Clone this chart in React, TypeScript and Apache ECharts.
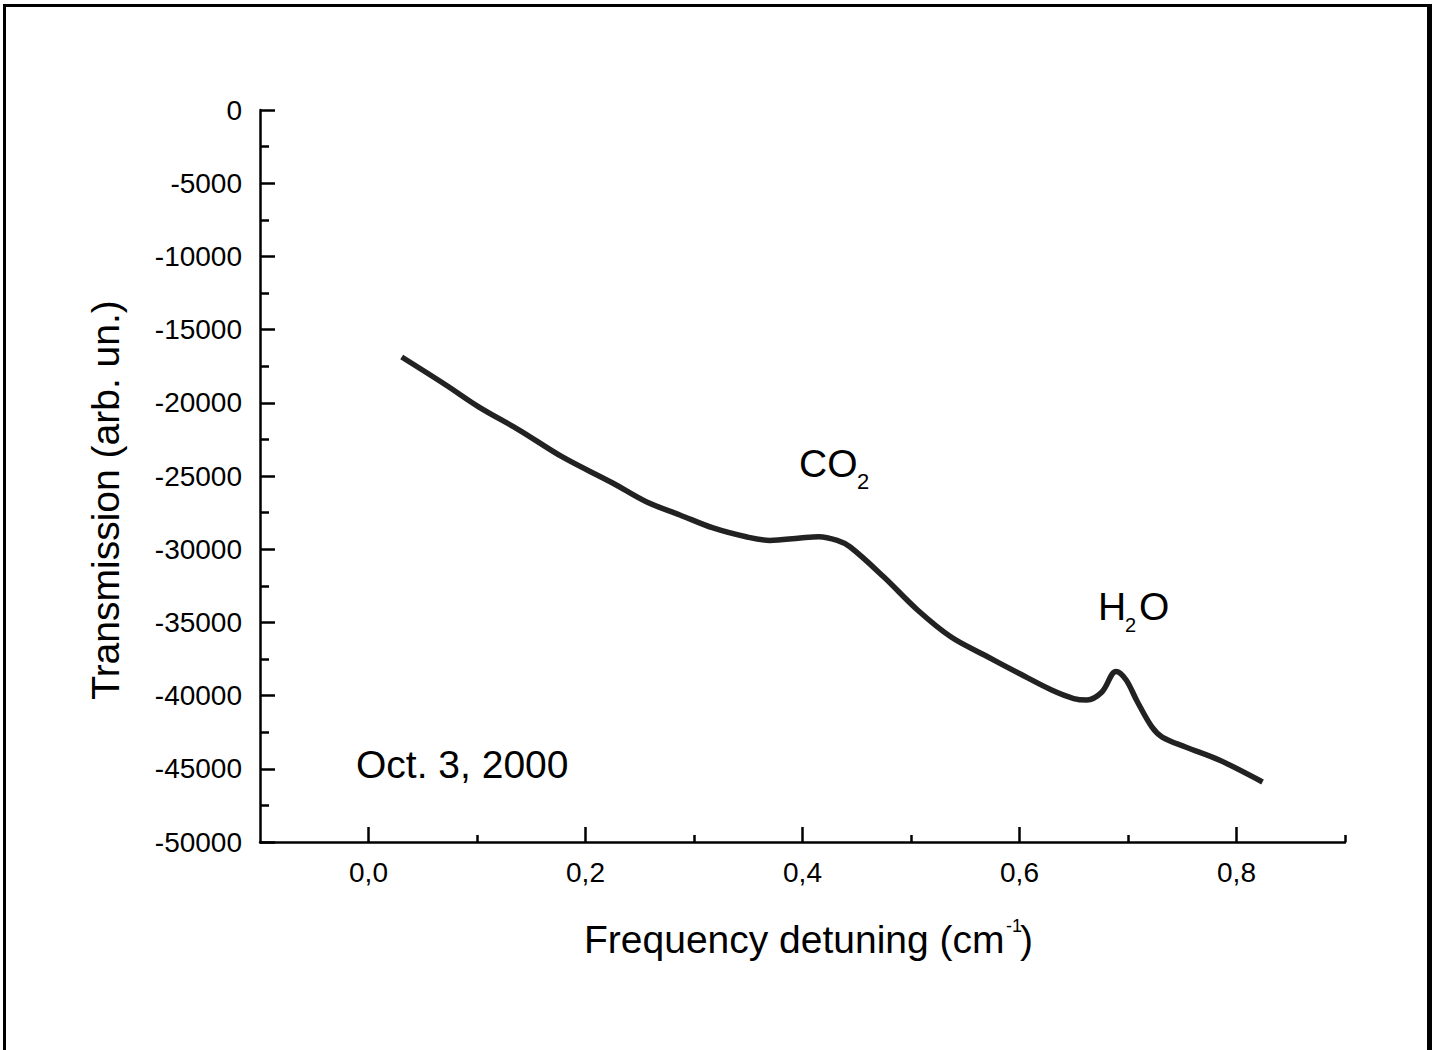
import React, { useEffect, useRef } from 'react';
import * as echarts from 'echarts';

// Frequency detuning (cm^-1)
const xValues = [
  0.0306, 0.0713, 0.1019, 0.1389, 0.1787, 0.225, 0.2565, 0.287, 0.3176, 0.349,
  0.37, 0.398, 0.415, 0.432, 0.444, 0.475, 0.506, 0.537, 0.5676, 0.599,
  0.6296, 0.65, 0.662, 0.676, 0.689, 0.698, 0.7085, 0.722, 0.7315, 0.753,
  0.784, 0.824,
];
// Transmission (arb. un.)
const yValues = [
  -16870, -18780, -20290, -21860, -23700, -25480, -26780, -27660, -28550, -29170,
  -29400, -29230, -29150, -29400, -29850, -31900, -34150, -36000, -37230, -38460,
  -39620, -40200, -40300, -39750, -38350, -38900, -40400, -42140, -42830, -43510,
  -44400, -45900,
];
const xMajorTicks = [0, 0.2, 0.4, 0.6, 0.8];
const xMinorTicks = [0.1, 0.3, 0.5, 0.7, 0.9];
const yMin = -50000;
const yMax = 0;
const yStep = 5000;

const FONT = "'Liberation Sans', Arial, Helvetica, sans-serif";

function txt(text: string, x: number, y: number, size: number, align = 'left', rotation = 0) {
  return {
    type: 'text',
    x,
    y,
    rotation,
    style: {
      text,
      fontSize: size,
      fontFamily: FONT,
      fill: '#000',
      textAlign: align,
      align,
      textVerticalAlign: 'middle',
      verticalAlign: 'middle',
    },
  };
}

export default function App() {
  const ref = useRef<HTMLDivElement>(null);
  useEffect(() => {
    document.body.style.margin = '0';
    const chart = echarts.init(ref.current!, null, { renderer: 'svg' });
    const lineStyle = { color: '#000', width: 2.5 };
    chart.setOption({
      animation: false,
      backgroundColor: '#fff',
      grid: { left: 260, top: 110, width: 1085, height: 732 },
      xAxis: [
        {
          type: 'value',
          min: -0.1,
          max: 0.9,
          position: 'bottom',
          axisLine: { show: true, onZero: false, lineStyle },
          axisTick: { show: true, inside: true, length: 15, customValues: xMajorTicks, lineStyle },
          axisLabel: {
            customValues: xMajorTicks,
            formatter: (v: number) => v.toFixed(1).replace('.', ','),
            fontSize: 28,
            fontFamily: FONT,
            color: '#000',
            margin: 16,
          },
          splitLine: { show: false },
        },
        {
          type: 'value',
          min: -0.1,
          max: 0.9,
          position: 'bottom',
          axisLine: { show: false, onZero: false },
          axisTick: { show: true, inside: true, length: 7, customValues: xMinorTicks, lineStyle },
          axisLabel: { show: false },
          splitLine: { show: false },
        },
      ],
      yAxis: {
        type: 'value',
        min: yMin,
        max: yMax,
        interval: yStep,
        axisLine: { show: true, onZero: false, lineStyle },
        axisTick: { show: true, inside: true, length: 15, lineStyle },
        minorTick: { show: true, splitNumber: 2, length: 9, lineStyle },
        axisLabel: {
          fontSize: 28,
          fontFamily: FONT,
          color: '#000',
          margin: 18,
          formatter: (v: number) => String(Math.round(v)),
        },
        splitLine: { show: false },
        minorSplitLine: { show: false },
      },
      series: [
        {
          type: 'line',
          xAxisIndex: 0,
          data: xValues.map((x, i) => [x, yValues[i]]),
          showSymbol: false,
          smooth: 0.35,
          lineStyle: { color: '#222', width: 5.5 },
        },
      ],
      graphic: [
        { type: 'rect', shape: { x: 3, y: 4, width: 3, height: 1046 }, style: { fill: '#000' } },
        { type: 'rect', shape: { x: 3, y: 4, width: 1429, height: 3 }, style: { fill: '#000' } },
        { type: 'rect', shape: { x: 1427, y: 4, width: 5, height: 1046 }, style: { fill: '#000' } },
        txt('Transmission (arb. un.)', 105.5, 500, 39, 'center', Math.PI / 2),
        txt('Frequency detuning (cm', 584, 939, 39, 'left'),
        txt('-1', 1006, 926, 18, 'left'),
        txt(')', 1020, 939, 39, 'left'),
        txt('Oct. 3, 2000', 356, 764, 39, 'left'),
        txt('CO', 799, 463.5, 39, 'left'),
        txt('2', 857, 481, 22, 'left'),
        txt('H', 1098, 606.5, 39, 'left'),
        txt('2', 1125, 625, 20, 'left'),
        txt('O', 1139, 606.5, 39, 'left'),
      ],
    });
    return () => chart.dispose();
  }, []);
  return <div ref={ref} style={{ width: 1441, height: 1050 }} />;
}
